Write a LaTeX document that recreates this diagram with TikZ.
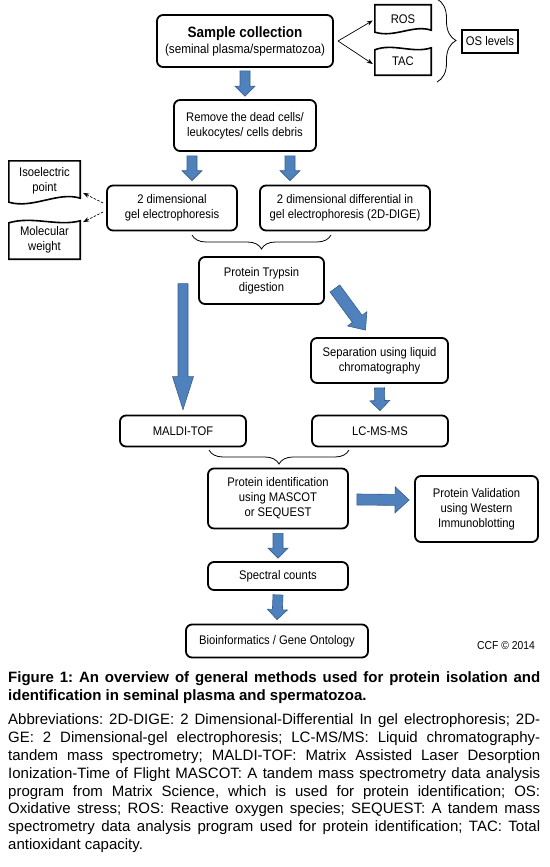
\documentclass[tikz,border=0pt]{standalone}
\usepackage{fontspec}
\setmainfont{Liberation Sans}
\newfontfamily\boxfont[FakeStretch=0.9]{Liberation Sans}
\usetikzlibrary{calc,decorations.pathreplacing,arrows.meta}
\definecolor{arrblue}{RGB}{79,129,189}
\definecolor{arredge}{RGB}{56,93,138}
\tikzset{
 box/.style={draw=black, line width=1.8pt, rounded corners=6pt, align=center, inner sep=0pt,
   font=\boxfont\fontsize{12.5}{15}\selectfont},
 sqbox/.style={draw=black, line width=1.8pt, align=center, inner sep=0pt,
   font=\boxfont\fontsize{12.5}{15}\selectfont},
 docnode/.style={inner sep=0pt, align=center, font=\boxfont\fontsize{12.5}{15}\selectfont},
 docline/.style={line width=1.6pt, line join=miter},
 thinarrow/.style={line width=0.7pt, -{Stealth[length=6pt,width=4.5pt]}},
 dasharrow/.style={thinarrow, dash pattern=on 2.5pt off 1.5pt},
 bracestyle/.style={line width=0.8pt, decorate, decoration={brace, amplitude=#1}},
 blockarrow/.style={fill=arrblue, draw=arredge, line width=0.6pt, line join=miter},
}
\newcommand\blockarr[5]{%
 \coordinate (bkS) at (#1);
 \coordinate (bkE) at (#2);
 \coordinate (bkH) at ($(bkE)!#5!(bkS)$);
 \filldraw[blockarrow] ($(bkS)!#3!90:(bkE)$) -- ($(bkH)!#3!90:(bkE)$) -- ($(bkH)!#4!90:(bkE)$)
   -- (bkE) -- ($(bkH)!#4!-90:(bkE)$) -- ($(bkH)!#3!-90:(bkE)$) -- ($(bkS)!#3!-90:(bkE)$) -- cycle;}
\begin{document}
\begin{tikzpicture}[x=1pt,y=-1pt]
\useasboundingbox (0,0) rectangle (549,867);
% top row
\node[box, minimum width=176, minimum height=52] (sample) at (245,41)
  {{\bfseries\fontsize{15}{19}\selectfont Sample collection}\\[1pt]{\fontsize{13}{16}\selectfont (seminal plasma/spermatozoa)}};
\node[docnode, minimum width=56, minimum height=29] (ros) at (403,19.5) {ROS};
\node[docnode, minimum width=56, minimum height=28] (tac) at (403,61) {TAC};
\draw[docline] ($(ros.south west)+(0,-2)$) -- (ros.north west) -- (ros.north east) -- ($(ros.south east)+(0,-4)$)
  .. controls +(-18,-6) and +(20,6) .. ($(ros.south west)+(0,-2)$) -- cycle;
\draw[docline] ($(tac.north west)+(0,3)$) .. controls +(18,-7) and +(-18,6) .. ($(tac.north east)+(0,1)$)
  -- (tac.south east) -- (tac.south west) -- cycle;
\node[sqbox, minimum width=56, minimum height=23] (os) at (490,41.5) {OS levels};
\coordinate (fork) at (338,41);
\draw[thinarrow] (fork) -- ($(ros.west)+(-2,1)$);
\draw[thinarrow] (fork) -- ($(tac.west)+(-2,3)$);
\coordinate (osbt) at (437,-1);
\coordinate (osbb) at (437,82);
\draw[bracestyle=19] (osbt) -- (osbb);
% second row
\node[box, minimum width=142, minimum height=51] (remove) at (245,125.5) {Remove the dead cells/\\leukocytes/ cells debris};
\blockarr{$(sample.south)+(0,3)$}{$(remove.north)+(0,-3)$}{5pt}{10pt}{10pt}
% gels
\node[box, minimum width=130, minimum height=45] (gel) at (172,208) {2 dimensional\\gel electrophoresis};
\node[box, minimum width=170, minimum height=45] (dige) at (345,208) {2 dimensional differential in\\gel electrophoresis (2D-DIGE)};
\blockarr{$(remove.south)+(-53,4)$}{$(gel.north)+(20,-4)$}{5pt}{10pt}{10pt}
\blockarr{$(remove.south)+(45,4)$}{$(dige.north)+(-55,-4)$}{5pt}{10pt}{10pt}
\node[docnode, minimum width=71, minimum height=40] (iso) at (44.5,181) {Isoelectric\\point};
\node[docnode, minimum width=71, minimum height=38] (mw) at (44.5,240) {Molecular\\weight};
\draw[docline] ($(iso.south west)+(0,1)$) -- (iso.north west) -- (iso.north east) -- ($(iso.south east)+(0,-3)$)
  .. controls +(-22,-7) and +(24,7) .. ($(iso.south west)+(0,1)$) -- cycle;
\draw[docline] ($(mw.north west)+(0,2)$) .. controls +(24,-7) and +(-22,6) .. ($(mw.north east)+(0,0)$)
  -- (mw.south east) -- (mw.south west) -- cycle;
\draw[dasharrow] ($(gel.west)+(-3,-5)$) -- ($(iso.east)+(3,12)$);
\draw[dasharrow] ($(gel.west)+(-3,4)$) -- ($(mw.east)+(3,-18)$);
\coordinate (b1r) at (331,235);
\coordinate (b1l) at (192,235);
\draw[bracestyle=14] (b1r) -- (b1l);
% trypsin
\node[box, minimum width=125, minimum height=47] (tryp) at (261.5,280.5) {Protein Trypsin\\digestion};
\node[box, minimum width=137, minimum height=45] (sep) at (379.5,360.5) {Separation using liquid\\chromatography};
\node[box, minimum width=126, minimum height=31] (maldi) at (183,431) {MALDI-TOF};
\node[box, minimum width=136, minimum height=31] (lcms) at (380,431) {LC-MS-MS};
\blockarr{$(maldi.north)+(0,-131)$}{$(maldi.north)+(0,-5)$}{5pt}{10.5pt}{33pt}
\blockarr{$(tryp.east)+(10,8)$}{$(sep.north)+(-14,-7)$}{6pt}{12pt}{14pt}
\blockarr{$(sep.south)+(0,4)$}{$(lcms.north)+(0,-4)$}{5pt}{10pt}{10pt}
\coordinate (b2r) at (349,450);
\coordinate (b2l) at (209,450);
\draw[bracestyle=14] (b2r) -- (b2l);
% identification
\node[box, minimum width=140, minimum height=60] (protid) at (278,498.5) {Protein identification\\using MASCOT\\or SEQUEST};
\node[box, minimum width=123, minimum height=66] (valid) at (476.5,509) {Protein Validation\\using Western\\Immunoblotting};
\blockarr{$(protid.east)+(8,1)$}{$(valid.west)+(-5,-9)$}{5.5pt}{13pt}{14pt}
\node[box, minimum width=140, minimum height=28] (spec) at (278,576) {Spectral counts};
\node[box, minimum width=182, minimum height=33] (bio) at (277,641) {Bioinformatics / Gene Ontology};
\blockarr{$(protid.south)+(0,4)$}{$(spec.north)+(0,-3)$}{5pt}{10pt}{10pt}
\blockarr{$(spec.south)+(0,4)$}{$(bio.north)+(0,-4)$}{5pt}{10pt}{10pt}
\node[anchor=east, inner sep=0pt, font=\boxfont\fontsize{11.5}{14}\selectfont] (ccf) at (535,646) {CCF © 2014};
% caption
\node[anchor=base west, inner sep=0pt] (caption) at (8,682) {\parbox[t]{532pt}{%
  \frenchspacing\hyphenpenalty=10000 \emergencystretch=20pt
  {\bfseries\fontsize{15}{18}\selectfont Figure 1: An overview of general methods used for protein isolation and\linebreak identification in seminal plasma and spermatozoa.\par}
  \vspace{7pt}
  {\fontsize{15}{17.8}\selectfont Abbreviations: 2D-DIGE: 2 Dimensional-Differential In gel electrophoresis; 2D-\linebreak GE: 2 Dimensional-gel electrophoresis; LC-MS/MS: Liquid chromatography-\linebreak tandem mass spectrometry; MALDI-TOF: Matrix Assisted Laser Desorption\linebreak Ionization-Time of Flight MASCOT: A tandem mass spectrometry data analysis\linebreak program from Matrix Science, which is used for protein identification; OS:\linebreak Oxidative stress; ROS: Reactive oxygen species; SEQUEST: A tandem mass\linebreak spectrometry data analysis program used for protein identification; TAC: Total\linebreak antioxidant capacity.\par}}};
\end{tikzpicture}
\end{document}
